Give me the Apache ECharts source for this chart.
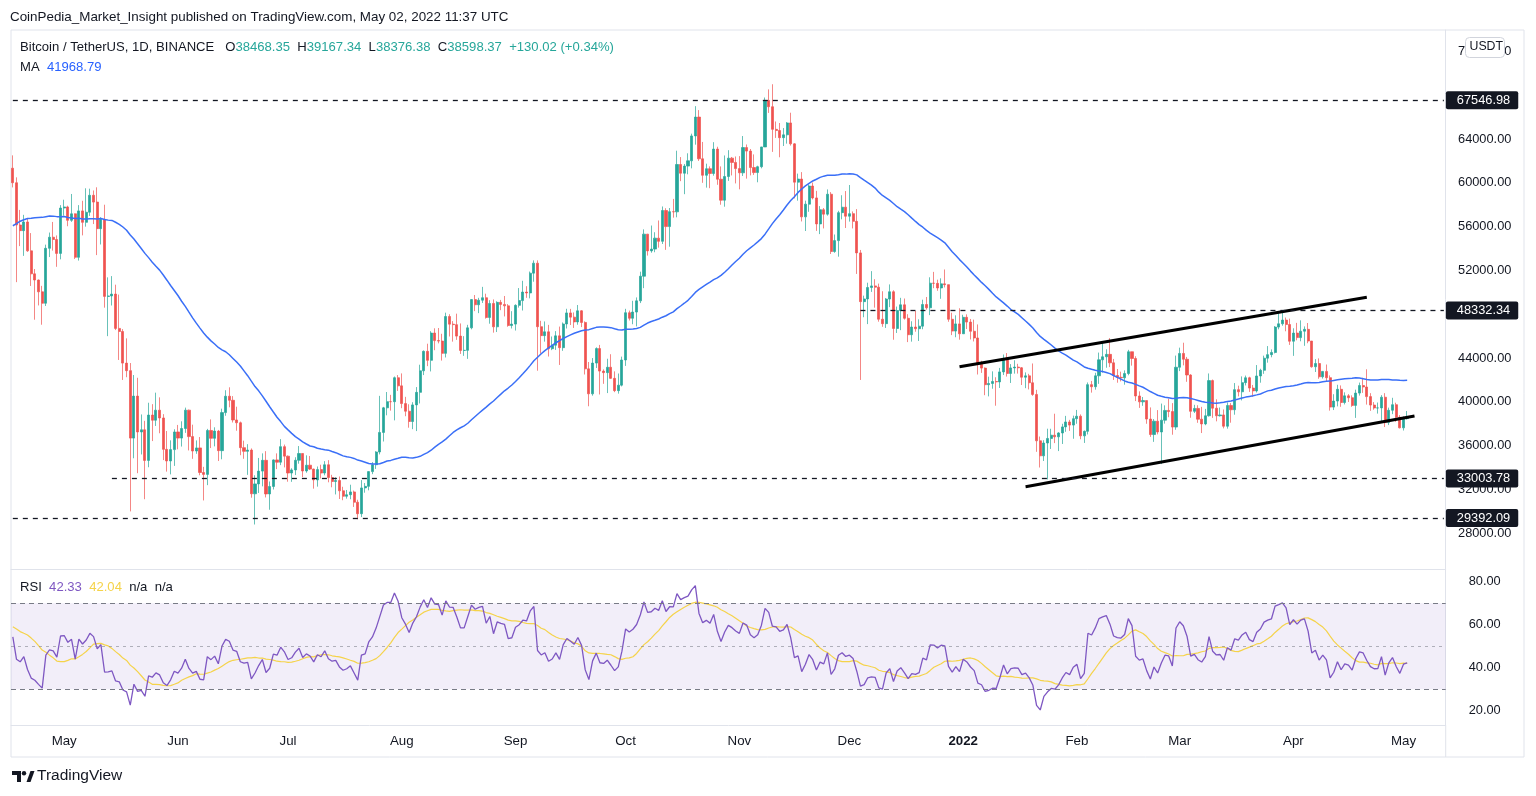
<!DOCTYPE html>
<html>
<head>
<meta charset="utf-8">
<script src="https://cdn.jsdelivr.net/npm/echarts@6/dist/echarts.min.js"></script>
<style>
html,body{margin:0;padding:0;background:#fff;}
#chart{width:1536px;height:796px;}
</style>
</head>
<body>
<div id="chart"></div>
<script>
// ---------------- DATA (BTC/USDT 1D, Binance) ----------------
const startDay = '2021-04-17';
const totalSlots = 391; // trading days + empty right margin
const monthNames = ['Jan','Feb','Mar','Apr','May','Jun','Jul','Aug','Sep','Oct','Nov','Dec'];

// closes before the visible window (used only for MA/RSI warm-up)
const warmupCloses = [
 33515,35466,37619,36936,38290,39186,38795,46374,46420,44807,47969,47287,47153,48577,47911,49133,52119,51552,55906,55841,57408,54087,48891,49676,47073,46276,46106,45135,
 49587,48440,50349,48374,48751,48882,50971,52375,54884,55851,57773,57221,61188,58968,55605,56900,58912,57648,58030,58102,57351,54083,54340,52303,51293,55025,55817,55777,57635,58746,58740,
 58720,58950,57051,58202,59129,57991,56000,58131,58102,59774,59964,59834,63577,62959,63159,61334
];

const opens = [
 61334,60006,56150,55633,56425,53787,51690,51125,50047,49004,54021,55033,54824,53555,
 57697,57797,56578,57169,53200,57436,56393,57314,58862,58240,55816,56670,49631,49670,49841,46708,46426,43538,42849,36690,40526,37252,37449,34655,38796,38324,39241,38529,35663,34605,35641,
 37253,36693,37568,39246,36829,35513,35796,33552,33380,37388,36675,37331,35546,39020,40516,40144,38349,38092,35819,35483,35600,31608,32509,33678,34663,31594,32275,34700,34494,35911,
 35045,33504,33786,34669,35287,33690,34220,33862,32875,33815,33502,34258,33086,32729,32820,31880,31383,31521,31778,30839,29790,32144,32287,33634,34258,35425,37208,39456,40019,40016,42206,
 41461,39845,39147,38207,39723,40867,42836,44614,43792,46285,45594,45553,44428,47793,47096,47048,46004,44695,44705,46760,49340,48867,49285,49507,47707,48983,46852,49085,48896,48767,46970,
 47100,48811,49247,50026,49944,51753,52663,46863,46048,46395,44851,45171,46026,44947,47112,48122,47737,47300,48314,47250,43015,40734,43543,44866,42810,42670,43160,42147,41026,41524,
 43824,48141,47634,48200,49224,51471,55315,53785,53951,54949,54659,57471,56005,57367,57347,61672,60875,61528,62009,64280,66001,62193,60688,61286,60852,63078,60328,58413,60575,62253,61859,
 61300,60911,63219,62896,61395,60937,61470,63273,67525,66947,64882,64774,64122,64380,65466,63557,60058,60344,56891,58052,59707,58622,56247,57541,57138,58960,53726,54722,57274,57776,
 56950,57184,56480,53601,49152,49396,50441,50588,50471,47545,47140,49389,50053,46702,48343,48864,47632,46131,46834,46681,46914,48889,48588,50838,50820,50399,50775,50701,47543,46464,47120,
 46216,47722,47286,46446,45833,43432,43082,41566,41679,41864,41822,42736,43949,42592,43099,43177,43113,42250,42375,41744,40680,36445,35071,36244,36660,36958,36809,37160,37716,38166,37881,
 38466,38690,36896,37311,41574,41382,42380,43840,44118,44338,43565,42407,42244,42197,42586,44575,43961,40538,40000,40118,38431,37017,38237,37250,38328,39219,39116,37700,
 43160,44421,43892,42454,39138,39400,38420,37988,38730,41941,39422,38730,38807,37777,39671,39280,41114,40917,41757,42201,41262,41002,42364,42882,43991,44313,44511,46827,47128,47465,47062,
 45538,46281,45868,46453,46622,45555,43206,43503,42287,42782,42207,39521,40074,41147,39942,40551,40378,39678,40801,41493,41358,40480,39709,39441,39450,40426,38112,39235,39742,38596,
 37630,38468.35
];

const highs = [
 62506,60499,57526,57076,56757,55410,52130,51167,50591,54356,55460,56428,55196,57963,
 58458,57911,58981,57200,57963,58360,59500,59464,59300,59592,56862,58000,51367,51483,50700,49795,46643,45800,43546,42451,42200,38850,38270,39920,39791,40841,40411,38877,37338,36488,37499,
 37894,38225,39476,39289,37917,36480,36789,34068,37534,38400,37680,37437,39380,41064,41330,40527,39559,38200,36457,36137,35750,33298,34881,35298,35500,32730,34749,35297,36600,36100,
 35100,33939,34945,35967,35293,35118,35059,33900,34100,34262,34590,34679,33340,33114,33185,32250,31955,32435,31899,31063,32858,32591,33650,34500,35500,40550,39542,40900,40640,42316,42448,
 42599,40459,39780,39969,41350,43392,44700,45310,46454,46718,46743,46218,48144,48000,47372,48053,47160,46000,47033,49382,49757,49500,50500,49876,49284,49355,49185,49309,49667,48925,48280,
 48907,50392,51055,50561,51900,52920,52920,47400,47345,47030,45970,46460,46874,47250,48500,48490,48165,48843,48370,47350,43639,44000,44978,45200,42966,43937,44350,42787,42590,44132,
 48495,48336,49228,49536,51886,55750,55332,56100,55489,56561,57839,57680,57700,58532,62933,62350,61720,62695,64486,67000,66639,63732,61747,61500,63710,63293,61497,62499,62980,62359,62405,
 62437,64270,63500,63086,62595,61560,63286,67789,68530,69000,65600,65460,65000,65550,66401,63617,60840,60976,58372,59845,60029,59266,57875,57700,59398,59150,55280,57445,58865,59249,
 59800,57386,57600,53869,49699,50880,51936,51200,50797,50100,49485,50724,50189,48700,49500,49436,48000,47360,48300,47537,49328,49576,51375,51868,51156,51280,52088,50704,48139,47900,48548,
 47954,47990,47570,47505,47070,43748,43145,42300,42786,42248,43100,44322,44459,43448,43800,43475,43180,42691,42559,43505,41100,36835,36499,37550,37545,38919,37234,38000,38720,38359,38744,
 39265,38855,37387,41772,41913,42656,44500,45492,44799,45821,43920,43000,42760,42876,44751,44578,44164,40959,40444,40119,39494,38429,39249,39843,39683,40295,39886,44225,
 44950,45400,44102,42527,39730,39693,39547,39360,42594,42039,40236,39486,39310,39947,39887,41718,41478,42325,42400,42296,41544,43361,43025,44220,45094,44792,46922,48096,48190,47700,47600,
 46720,47213,47444,46890,47200,45555,43900,43970,42800,43410,42415,40699,41561,41500,40870,40709,40595,41116,41760,42199,42976,40795,39980,39940,40616,40797,39474,40372,39925,38795,
 38675,39167.34
];

const lows = [
 59580,50931,54221,53329,53696,50583,47500,48805,47044,48753,53222,53813,52330,53013,
 57000,56035,56435,53046,52900,55200,56000,56975,56235,53400,54370,48600,46000,48800,46555,43825,42001,42250,30000,34850,33488,35200,31111,34031,36419,37800,37134,34684,33632,33379,34154,
 35666,35920,37170,35567,34800,35258,33300,31000,32396,35784,35936,34600,34757,38730,39506,38116,37365,35129,34803,33336,31251,28805,31683,32286,31275,30151,32000,33862,34225,34017,
 32711,32699,33316,34357,33125,33532,33777,32077,32261,33004,33300,32658,32202,31550,31133,31020,31164,31109,30407,29278,29482,31708,31925,33401,33881,35205,36383,38772,39200,38313,41000,
 39422,38690,37642,37508,37332,39853,42446,43261,42779,44716,45341,43770,44056,45971,45500,45660,44376,44203,43927,46622,48285,48102,49029,47600,47138,46320,46375,48371,47801,46862,46700,
 46512,48607,48342,49500,49450,50970,42843,44413,45500,44140,44723,44742,43370,44660,46700,47016,46750,47044,46829,42500,39600,40565,43096,40675,41646,40803,42098,40888,40753,41410,
 43283,47430,47088,46891,49020,50382,53357,53617,53661,54080,54415,53879,54167,56818,56850,60150,58963,60778,61322,63481,62000,60000,59562,59510,60650,59817,58000,57820,60174,60673,59945,
 59405,60624,60382,60677,60721,60050,61322,63273,66382,62822,64100,62333,63360,63576,63400,58574,58373,56474,55600,57353,58486,55610,55317,55837,57000,53500,53610,53256,56666,55875,
 56458,55837,51680,42000,47727,47100,50039,48600,47321,46852,46751,48650,45672,46290,46547,47511,45457,45500,46406,45558,46630,48421,47920,50378,50142,49412,50449,47313,46096,45900,45678,
 46208,46654,45696,45516,42500,42645,40610,40501,41200,39650,41268,42450,42311,41725,42578,42581,41540,41250,41138,40553,35440,34008,34601,32917,35701,36234,35507,36155,37268,37351,36632,
 38000,36586,36250,37026,40843,41116,41645,42667,43117,43174,42000,41748,41870,41570,42427,43308,40073,39450,39639,38000,36800,36350,37036,34322,38014,38600,37000,37450,
 42809,43334,41832,38550,38980,38088,37155,37867,38656,38539,38223,38660,37578,37555,38098,38828,40500,40135,41499,40911,40467,40857,41751,42560,43579,44071,44422,46624,46950,46445,45200,
 44200,45620,45530,45118,45353,43121,42727,42107,42125,41868,39200,39254,39588,39551,39766,39991,39546,38536,40571,40820,39751,39177,39285,38929,38200,37702,37881,38881,38175,37578,
 37386,38376.38
];

const closes = [
 60006,56150,55633,56425,53787,51690,51125,50047,49004,54021,55033,54824,53555,57697,
 57797,56578,57169,53200,57436,56393,57314,58862,58240,55816,56670,49631,49670,49841,46708,46426,43538,42849,36690,40526,37252,37449,34655,38796,38324,39241,38529,35663,34605,35641,37253,
 36693,37568,39246,36829,35513,35796,33552,33380,37388,36675,37331,35546,39020,40516,40144,38349,38092,35819,35483,35600,31608,32509,33678,34663,31594,32275,34700,34494,35911,35045,
 33504,33786,34669,35287,33690,34220,33862,32875,33815,33502,34258,33086,32729,32820,31880,31383,31521,31778,30839,29790,32144,32287,33634,34258,35425,37208,39456,40019,40016,42206,41461,
 39845,39147,38207,39723,40867,42836,44614,43792,46285,45594,45553,44428,47793,47096,47048,46004,44695,44705,46760,49340,48867,49285,49507,47707,48983,46852,49085,48896,48767,46970,47100,
 48811,49247,50026,49944,51753,52663,46863,46048,46395,44851,45171,46026,44947,47112,48122,47737,47300,48314,47250,43015,40734,43543,44866,42810,42670,43160,42147,41026,41524,43824,
 48141,47634,48200,49224,51471,55315,53785,53951,54949,54659,57471,56005,57367,57347,61672,60875,61528,62009,64280,66001,62193,60688,61286,60852,63078,60328,58413,60575,62253,61859,61300,
 60911,63219,62896,61395,60937,61470,63273,67525,66947,64882,64774,64122,64380,65466,63557,60058,60344,56891,58052,59707,58622,56247,57541,57138,58960,53726,54722,57274,57776,56950,
 57184,56480,53601,49152,49396,50441,50588,50471,47545,47140,49389,50053,46702,48343,48864,47632,46131,46834,46681,46914,48889,48588,50838,50820,50399,50775,50701,47543,46464,47120,46216,
 47722,47286,46446,45833,43432,43082,41566,41679,41864,41822,42736,43949,42592,43099,43177,43113,42250,42375,41744,40680,36445,35071,36244,36660,36958,36809,37160,37716,38166,37881,38466,
 38690,36896,37311,41574,41382,42380,43840,44118,44338,43565,42407,42244,42197,42586,44575,43961,40538,40000,40118,38431,37017,38237,37250,38328,39219,39116,37700,43160,
 44421,43892,42454,39138,39400,38420,37988,38730,41941,39422,38730,38807,37777,39671,39280,41114,40917,41757,42201,41262,41002,42364,42882,43991,44313,44511,46827,47128,47465,47062,45538,
 46281,45868,46453,46622,45555,43206,43503,42287,42782,42207,39521,40074,41147,39942,40551,40378,39678,40801,41493,41358,40480,39709,39441,39450,40426,38112,39235,39742,38596,37630,
 38468,38598.37
];

// horizontal dashed levels: [start date, price]
const levelStarts = ['2021-04-17','2021-12-04','2021-05-14','2021-04-17'];
const levelPrices = [67546.98, 48332.34, 33003.78, 29392.09];

// channel trend lines: [date, price] pairs
const upperLine = [['2021-12-31', 43211], ['2022-04-21', 49547]];
const lowerLine = [['2022-01-18', 32255], ['2022-05-04', 38710]];

// legend values as printed
const legendOHLC = ['38468.35','39167.34','38376.38','38598.37'];
const legendChange = '+130.02 (+0.34%)';
const legendMA = '41968.79';
const legendRSI = ['42.33','42.04'];
const lastPrice = 38598.37;

const maPeriod = 50, rsiPeriod = 14, rsiMaPeriod = 14;

// ---------------- DERIVED ----------------
const dates = [];
{
  const t0 = Date.parse(startDay + 'T00:00:00Z');
  for (let i = 0; i < totalSlots; i++) dates.push(new Date(t0 + i * 86400000).toISOString().slice(0, 10));
}
const n = Math.min(opens.length, highs.length, lows.length, closes.length);
const ohlc = [];
for (let i = 0; i < n; i++) ohlc.push([opens[i], closes[i], lows[i], highs[i]]);

const allC = warmupCloses.concat(closes.slice(0, n));
const W = warmupCloses.length;
const maVals = [];
for (let i = 0; i < n; i++) {
  const k = W + i; let s = 0;
  for (let j = k - maPeriod + 1; j <= k; j++) s += allC[j];
  maVals.push(+(s / maPeriod).toFixed(2));
}
const rsiAll = new Array(allC.length).fill(null);
let ag = 0, al = 0;
for (let i = 1; i < allC.length; i++) {
  const d = allC[i] - allC[i - 1];
  const g = Math.max(d, 0), l = Math.max(-d, 0);
  if (i <= rsiPeriod) {
    ag += g / rsiPeriod; al += l / rsiPeriod;
    if (i === rsiPeriod) rsiAll[i] = al === 0 ? 100 : 100 - 100 / (1 + ag / al);
  } else {
    ag = (ag * (rsiPeriod - 1) + g) / rsiPeriod;
    al = (al * (rsiPeriod - 1) + l) / rsiPeriod;
    rsiAll[i] = al === 0 ? 100 : 100 - 100 / (1 + ag / al);
  }
}
const rsiVals = [], rsiMaVals = [];
for (let i = 0; i < n; i++) {
  const k = W + i;
  rsiVals.push(+rsiAll[k].toFixed(2));
  let s = 0; for (let j = k - rsiMaPeriod + 1; j <= k; j++) s += rsiAll[j];
  rsiMaVals.push(+(s / rsiMaPeriod).toFixed(2));
}

// ---------------- CHART ----------------
const FONT = "'Liberation Sans', Arial, sans-serif";
const TXT = '#131722';
const UP = '#26a69a', DOWN = '#ef5350';
const firstCat = dates[0], lastCat = dates[dates.length - 1];

const levelMarks = levelPrices.map((p, i) => {
  const lab = { show: true, position: 'end', distance: 2, formatter: p.toFixed(2), color: '#fff',
    backgroundColor: '#131722', padding: [3, 8, 2, 11], borderRadius: 2, fontSize: 12.8, fontFamily: FONT };
  return [
    { coord: [levelStarts[i], p], lineStyle: { color: '#131722', width: 1.3, type: [5, 5] }, label: lab },
    { coord: [lastCat, p], label: lab }
  ];
});
const priceLab = { show: true, position: 'end', distance: 2, formatter: lastPrice.toFixed(2), color: '#fff',
  backgroundColor: UP, padding: [3, 8, 2, 11], borderRadius: 2, fontSize: 12.8, fontFamily: FONT };
levelMarks.push([
  { coord: [firstCat, lastPrice], lineStyle: { opacity: 0, width: 0 }, label: priceLab },
  { coord: [lastCat, lastPrice], label: priceLab }
]);

const gridLeft = 11, gridRight = 90.3;
const chart = echarts.init(document.getElementById('chart'), null, { renderer: 'canvas' });
const option = {
  animation: false,
  backgroundColor: '#ffffff',
  textStyle: { fontFamily: FONT },
  grid: [
    { left: gridLeft, right: gridRight, top: 30, height: 539 },
    { left: gridLeft, right: gridRight, top: 569, height: 156.5 }
  ],
  xAxis: [
    { type: 'category', gridIndex: 0, data: dates, boundaryGap: true,
      axisLine: { show: true, lineStyle: { color: '#e0e3eb' } }, axisTick: { show: false },
      axisLabel: { show: false }, splitLine: { show: false } },
    { type: 'category', gridIndex: 1, data: dates, boundaryGap: true,
      axisLine: { show: true, lineStyle: { color: '#e0e3eb' } }, axisTick: { show: false },
      splitLine: { show: false },
      axisLabel: {
        margin: 9, fontSize: 13.3, color: TXT, fontFamily: FONT,
        interval: (idx, val) => val.slice(8) === '01',
        formatter: (val) => {
          const m = +val.slice(5, 7);
          return m === 1 ? '{y|' + val.slice(0, 4) + '}' : monthNames[m - 1];
        },
        rich: { y: { fontWeight: 'bold', fontSize: 13.3, color: TXT, fontFamily: FONT } }
      } }
  ],
  yAxis: [
    { type: 'value', gridIndex: 0, position: 'right', min: 24741, max: 73952,
      minInterval: 4000, maxInterval: 4000, splitNumber: 12, scale: true,
      axisLine: { show: true, lineStyle: { color: '#e0e3eb' } }, axisTick: { show: false },
      splitLine: { show: false },
      axisLabel: { show: true, showMinLabel: false, showMaxLabel: false, margin: 39, align: 'center',
        fontSize: 12.8, color: TXT, fontFamily: FONT,
        formatter: (v) => (v % 4000 !== 0 || v === 68000) ? '' : v.toFixed(2) } },
    { type: 'value', gridIndex: 1, position: 'right', min: 13.16, max: 85.95,
      minInterval: 20, maxInterval: 20, splitNumber: 4, scale: true,
      axisLine: { show: true, lineStyle: { color: '#e0e3eb' } }, axisTick: { show: false },
      splitLine: { show: false },
      axisLabel: { show: true, showMinLabel: false, showMaxLabel: false, margin: 39, align: 'center',
        fontSize: 12.8, color: TXT, fontFamily: FONT,
        formatter: (v) => (v % 20 !== 0) ? '' : v.toFixed(2) } }
  ],
  series: [
    { name: 'BTCUSDT', type: 'candlestick', xAxisIndex: 0, yAxisIndex: 0, data: ohlc,
      barWidth: 2.6, z: 2,
      itemStyle: { color: UP, color0: DOWN, borderColor: UP, borderColor0: DOWN, borderWidth: 0.7 },
      markLine: { symbol: ['none', 'none'], silent: true, animation: false, z: 20, data: levelMarks } },
    { name: 'MA', type: 'line', xAxisIndex: 0, yAxisIndex: 0, data: maVals, showSymbol: false,
      symbol: 'none', z: 3, lineStyle: { color: '#3a6ff7', width: 1.5 } },
    { name: 'upper', type: 'line', xAxisIndex: 0, yAxisIndex: 0, data: upperLine, symbol: 'none', z: 6,
      lineStyle: { color: '#000', width: 3 } },
    { name: 'lower', type: 'line', xAxisIndex: 0, yAxisIndex: 0, data: lowerLine, symbol: 'none', z: 6,
      lineStyle: { color: '#000', width: 3 } },
    { name: 'RSI MA', type: 'line', xAxisIndex: 1, yAxisIndex: 1, data: rsiMaVals, symbol: 'none', z: 3,
      lineStyle: { color: '#f5d34a', width: 1.2 },
      markArea: { silent: true, itemStyle: { color: 'rgba(126,87,194,0.1)' },
        data: [[{ yAxis: 70 }, { yAxis: 30 }]] },
      markLine: { symbol: ['none', 'none'], silent: true, label: { show: false },
        data: [
          { yAxis: 70, lineStyle: { color: '#787b86', width: 1, type: [5, 4] } },
          { yAxis: 50, lineStyle: { color: 'rgba(120,123,134,0.55)', width: 1, type: [3, 4] } },
          { yAxis: 30, lineStyle: { color: '#787b86', width: 1, type: [5, 4] } }
        ] } },
    { name: 'RSI', type: 'line', xAxisIndex: 1, yAxisIndex: 1, data: rsiVals, symbol: 'none', z: 4,
      lineStyle: { color: '#7e57c2', width: 1.3 } }
  ],
  graphic: [
    { type: 'rect', z: 0, silent: true, shape: { x: 11, y: 30, width: 1513, height: 727 },
      style: { fill: 'none', stroke: '#e0e3eb', lineWidth: 1 } },
    { type: 'line', z: 0, silent: true, shape: { x1: 1445.7, y1: 725.5, x2: 1445.7, y2: 757 },
      style: { stroke: '#e0e3eb', lineWidth: 1 } },
    { type: 'text', z: 50, left: 10, top: 11, style: {
      text: 'CoinPedia_Market_Insight published on TradingView.com, May 02, 2022 11:37 UTC',
      fill: TXT, font: '13.4px ' + FONT } },
    { type: 'text', z: 50, left: 20, top: 41, style: {
      text: 'Bitcoin / TetherUS, 1D, BINANCE   O{g|' + legendOHLC[0] + '}  H{g|' + legendOHLC[1] +
            '}  L{g|' + legendOHLC[2] + '}  C{g|' + legendOHLC[3] + '}  {g|' + legendChange + '}',
      fill: TXT, font: '13.1px ' + FONT,
      rich: { g: { fill: UP, font: '13.1px ' + FONT } } } },
    { type: 'text', z: 50, left: 20, top: 61, style: {
      text: 'MA  {b|' + legendMA + '}', fill: TXT, font: '13.1px ' + FONT,
      rich: { b: { fill: '#2962ff', font: '13.1px ' + FONT } } } },
    { type: 'text', z: 50, left: 20, top: 581, style: {
      text: 'RSI  {p|' + legendRSI[0] + '}  {y|' + legendRSI[1] + '}  n/a  n/a', fill: TXT, font: '13.1px ' + FONT,
      rich: { p: { fill: '#7e57c2', font: '13.1px ' + FONT }, y: { fill: '#f5d34a', font: '13.1px ' + FONT } } } },
    { type: 'rect', z: 60, silent: true, shape: { x: 1465.5, y: 37.5, width: 39, height: 20, r: 4 },
      style: { fill: '#fff', stroke: '#d1d4dc', lineWidth: 1 } },
    { type: 'text', z: 61, left: 1469.5, top: 41, style: { text: 'USDT', fill: TXT, font: '12.3px ' + FONT } },
    // TradingView logo
    { type: 'group', z: 50, left: 12, top: 771, children: [
      { type: 'rect', shape: { x: 0, y: 0, width: 9, height: 4 }, style: { fill: TXT } },
      { type: 'rect', shape: { x: 5, y: 0, width: 4, height: 11 }, style: { fill: TXT } },
      { type: 'circle', shape: { cx: 12, cy: 2.2, r: 2.2 }, style: { fill: TXT } },
      { type: 'polygon', shape: { points: [[14.5, 11], [18.5, 0], [22.5, 0], [18.5, 11]] }, style: { fill: TXT } }
    ] },
    { type: 'text', z: 50, left: 37, top: 768, style: { text: 'TradingView', fill: TXT, font: '500 15.5px ' + FONT } }
  ]
};
chart.setOption(option);
</script>
</body>
</html>
